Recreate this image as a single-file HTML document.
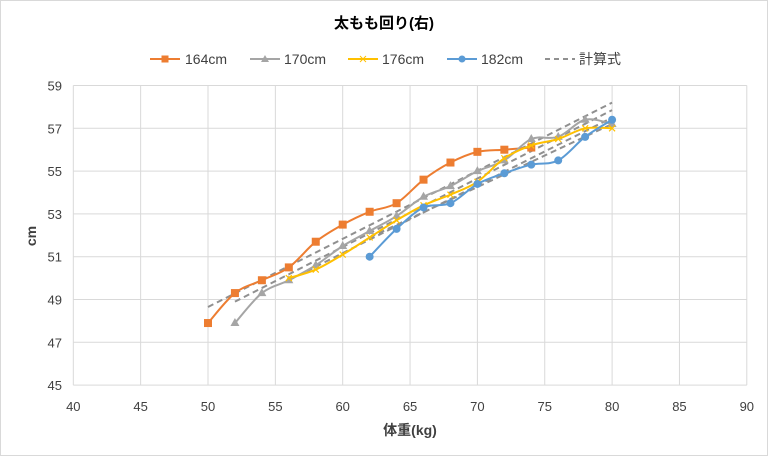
<!DOCTYPE html>
<html><head><meta charset="utf-8"><style>
body{margin:0;background:#fff}
svg{display:block;font-family:"Liberation Sans","Noto Sans CJK JP",sans-serif}
</style></head><body>
<svg id="s" width="768" height="456" viewBox="0 0 768 456" xmlns="http://www.w3.org/2000/svg">
<rect x="0.5" y="0.5" width="767" height="455" fill="#fff" stroke="#d9d9d9"/>
<text x="384" y="28" text-anchor="middle" font-size="15" font-weight="bold" fill="#000">太もも回り(右)</text>
<g font-size="14" fill="#404040">
<line x1="150" y1="59" x2="180" y2="59" stroke="#ed7d31" stroke-width="2"/><rect x="161.5" y="55.5" width="7" height="7" fill="#ed7d31"/><text x="185" y="64">164cm</text>
<line x1="250" y1="59" x2="280" y2="59" stroke="#a5a5a5" stroke-width="2"/><polygon points="265,55 269,62 261,62" fill="#a5a5a5"/><text x="284" y="64">170cm</text>
<line x1="348" y1="59" x2="378" y2="59" stroke="#ffc000" stroke-width="2"/><path d="M360,56L366,62M360,62L366,56" stroke="#ffc000" stroke-width="1"/><text x="382" y="64">176cm</text>
<line x1="447" y1="59" x2="477" y2="59" stroke="#5b9bd5" stroke-width="2"/><circle cx="462" cy="59" r="3.5" fill="#5b9bd5"/><text x="481" y="64">182cm</text>
<line x1="545" y1="59" x2="575" y2="59" stroke="#909090" stroke-width="2" stroke-dasharray="5,4"/><text x="579" y="64">計算式</text>
</g>
<g id="g"></g>
<text x="36" y="236" transform="rotate(-90 36 236)" text-anchor="middle" font-size="14" font-weight="bold" fill="#404040">cm</text>
<text x="410" y="435" text-anchor="middle" font-size="14" font-weight="bold" fill="#404040">体重(kg)</text>
</svg>
<script>
const X=v=>73.3+(v-40)*13.47, Y=v=>85.5+(59-v)*21.4;
let h='';
for(let k=40;k<=90;k+=5){h+=`<line x1="${X(k)}" y1="${Y(59)}" x2="${X(k)}" y2="${Y(45)}" stroke="#d9d9d9"/>`;
h+=`<text x="${X(k)}" y="411" text-anchor="middle" font-size="13" fill="#404040">${k}</text>`;}
for(let v=45;v<=59;v+=2){h+=`<line x1="${X(40)}" y1="${Y(v)}" x2="${X(90)}" y2="${Y(v)}" stroke="#d9d9d9"/>`;
h+=`<text x="62" y="${Y(v)+5}" text-anchor="end" font-size="13" fill="#404040">${v}</text>`;}
const tl=[[50,48.65,80,58.2],[52,48.9,80,57.85],[56,49.9,80,57.5],[62,51.9,80,57.2]];
tl.forEach(t=>h+=`<line x1="${X(t[0])}" y1="${Y(t[1])}" x2="${X(t[2])}" y2="${Y(t[3])}" stroke="#909090" stroke-width="2" stroke-dasharray="6,4"/>`);
const S=[
["#ed7d31",50,[47.9,49.3,49.9,50.5,51.7,52.5,53.1,53.5,54.6,55.4,55.9,56.0,56.1],"sq"],
["#a5a5a5",52,[47.9,49.3,49.9,50.6,51.5,52.2,52.9,53.8,54.3,55.0,55.5,56.5,56.6,57.4,57.2],"tri"],
["#ffc000",56,[50.0,50.4,51.1,51.9,52.7,53.4,53.9,54.5,55.6,56.2,56.5,57.0,57.0],"x"],
["#5b9bd5",62,[51.0,52.3,53.3,53.5,54.4,54.9,55.3,55.5,56.6,57.4],"c"]];
S.forEach(s=>{const p=s[2].map((v,i)=>[X(s[1]+2*i),Y(v)]);
let d=`M${p[0][0]},${p[0][1]}`;
for(let i=0;i<p.length-1;i++){const a=p[i-1]||p[i],b=p[i],c=p[i+1],e=p[i+2]||c,t=0.5/3;
d+=`C${b[0]+(c[0]-a[0])*t},${b[1]+(c[1]-a[1])*t} ${c[0]-(e[0]-b[0])*t},${c[1]-(e[1]-b[1])*t} ${c[0]},${c[1]}`;}
h+=`<path d="${d}" fill="none" stroke="${s[0]}" stroke-width="2"/>`;
p.forEach(([x,y])=>{
if(s[3]=="sq")h+=`<rect x="${x-4}" y="${y-4}" width="8" height="8" fill="${s[0]}"/>`;
else if(s[3]=="tri")h+=`<polygon points="${x},${y-5} ${x+4.5},${y+3} ${x-4.5},${y+3}" fill="${s[0]}"/>`;
else if(s[3]=="c")h+=`<circle cx="${x}" cy="${y}" r="4" fill="${s[0]}"/>`;
else h+=`<path d="M${x-3},${y-3}L${x+3},${y+3}M${x-3},${y+3}L${x+3},${y-3}" stroke="${s[0]}" stroke-width="1.2"/>`;});});
document.getElementById('g').innerHTML=h;
</script>
</body></html>
